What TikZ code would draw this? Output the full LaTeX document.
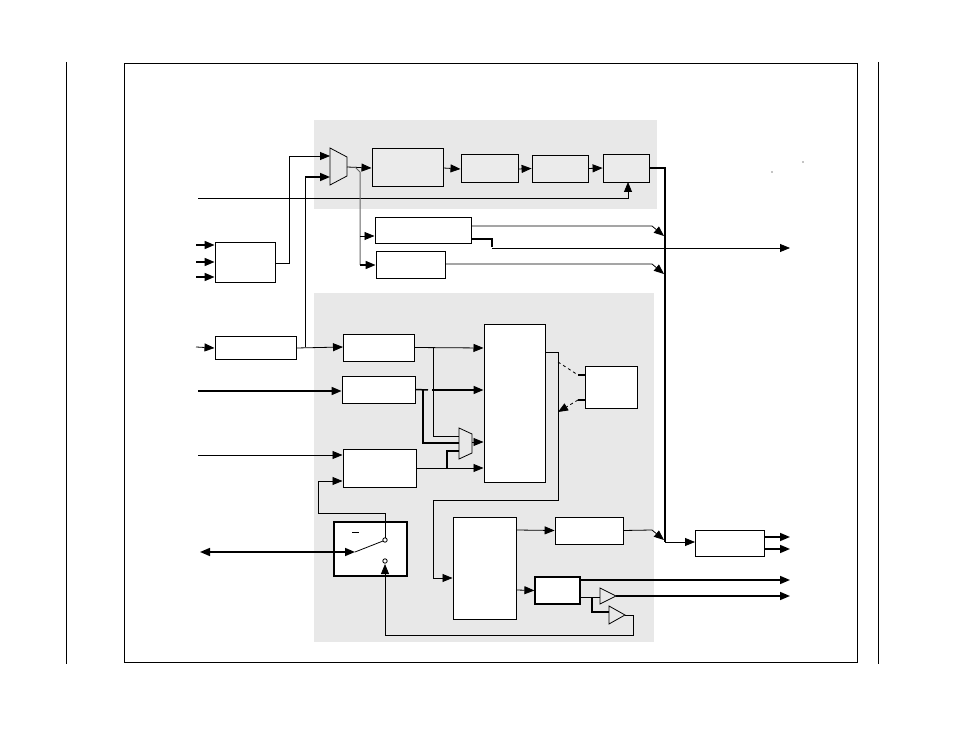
\documentclass[tikz,border=0pt]{standalone}
\usepackage{amsmath}
\usetikzlibrary{arrows.meta}
\begin{document}
\begin{tikzpicture}[x=1pt,y=-1pt,line width=0.8pt,
  blk/.style={draw,fill=white},
  gblk/.style={draw,fill=black!8},
  ar/.style={-{Triangle[length=10pt,width=8pt]}},
  thk/.style={line width=1.5pt}]
       \useasboundingbox (0,0) rectangle (954,738);
       % rahmen
       \draw (66,62) -- (66,664);
       \draw (878,62) -- (878,664);
       \draw (124,63) rectangle (857,662);
       % graue bereiche
       \fill[black!9] (314,120) rectangle (657,209);
       \fill[black!9] (314,293) rectangle (654,642);

       % oberer pfad
       \draw[fill=black!9] (330,148) -- (347,157) -- (347,176) -- (330,185) -- cycle;
       \node[gblk,minimum width=71pt,minimum height=38pt,line width=1pt] (a1) at (407.5,168) {};
       \node[gblk,minimum width=57pt,minimum height=28pt,line width=1pt] (a2) at (489.5,169) {};
       \node[gblk,minimum width=56pt,minimum height=27pt] (a3) at (560,168.5) {};
       \node[gblk,minimum width=46pt,minimum height=28pt] (a4) at (626,168) {};
       \draw[ar] (347,167) -- (a1.west);
       \draw[ar] (a1.east) -- (a2.west);
       \draw[ar] (a2.east) -- (a3.west);
       \draw[ar] (a3.east) -- (a4.west);
       \draw[ar] (198,198) -- (628,198) -- (628,182);
       \node[blk,minimum width=96pt,minimum height=26pt,line width=1pt] (b1) at (423,231) {};
       \node[blk,minimum width=69pt,minimum height=27pt] (b2) at (410.5,264.5) {};
       \draw[black!60,line width=1pt] (355,167) -- (360,172) -- (360,265);
       \draw[ar] (360,236) -- (b1.west |- 0,236);
       \draw[ar,thk] (360,265) -- (b2.west |- 0,265);
       \draw[ar] (471,226) -- (652,226) -- (664,236);
       \draw[ar] (445,264) -- (652,264) -- (664,274);
       \draw[thk] (471,239) -- (492,239) -- (492,247);
       \draw[ar] (492,248) -- (790,248);

       % eingang links oben
       \node[blk,minimum width=60pt,minimum height=40pt] (c) at (245,262) {};
       \foreach \y in {245,262,277} \draw[ar,thk] (196,\y) -- (c.west |- 0,\y);
       \draw[ar] (275,263) -- (289,263) -- (289,156) -- (330,156);
       \node[blk,minimum width=81pt,minimum height=22pt,line width=1pt] (e) at (255.5,348) {};
       \draw[ar] (196,347) -- (e.west);
       \draw[ar] (e.east) -- (343,347);
       \draw (305,347) -- (305,177);
       \draw[ar,thk] (305,177) -- (330,177);

       % unterer bereich
       \node[blk,minimum width=71pt,minimum height=27pt] (f1) at (378.5,347.5) {};
       \node[blk,minimum width=73pt,minimum height=27pt] (f2) at (378.5,389.5) {};
       \node[blk,minimum width=73pt,minimum height=38pt,line width=1pt] (f3) at (379.5,468) {};
       \node[blk,minimum width=61pt,minimum height=157pt,line width=1pt] (g) at (514.5,403.5) {};
       \draw[ar,thk] (198,391) -- (f2.west |- 0,391);
       \draw[ar] (198,455) -- (f3.west |- 0,455);
       \draw[ar] (f1.east) -- (g.west |- 0,348);
       \draw[thk] (f2.east) -- (428,390);
       \draw[ar,thk] (432,390) -- (g.west |- 0,390);
       \draw[ar] (f3.east |- 0,468) -- (g.west |- 0,468);
       \draw[fill=black!9] (459,428) -- (472,434) -- (472,453) -- (459,459) -- cycle;
       \draw[ar] (472,442) -- (g.west |- 0,442);
       \draw (433,348) -- (433,436) -- (459,436);
       \draw[thk] (423,390) -- (423,443) -- (459,443);
       \draw[thk] (447,468) -- (447,451) -- (459,451);
       \node[blk,minimum width=52pt,minimum height=42pt,line width=1pt] (h) at (611,387) {};
       \draw (545,352) -- (558,352) -- (558,500) -- (433,500) -- (433,578);
       \draw[dashed] (558,362) -- (578,375);
       \draw[thk] (578,375) -- (h.west |- 0,375);
       \draw[thk] (h.west |- 0,400) -- (578,400);
       \draw[ar,dashed] (578,400) -- (558,412);

       \node[blk,minimum width=63pt,minimum height=102pt,line width=1pt] (i) at (484.5,568) {};
       \draw[ar] (433,578) -- (i.west |- 0,578);
       \node[blk,minimum width=68pt,minimum height=27pt] (j) at (589,530.5) {};
       \draw[ar] (i.east |- 0,530) -- (j.west);
       \draw[ar] (j.east) -- (652,530) -- (664,540);
       \node[blk,minimum width=45pt,minimum height=27pt,line width=1.2pt] (k) at (557.5,590.5) {};
       \draw[ar] (i.east |- 0,590) -- (k.west);
       \draw[ar,thk] (580,580) -- (790,580);
       \draw (580,597) -- (600,597);
       \draw[fill=black!9] (600,588) -- (616,596) -- (600,604) -- cycle;
       \draw[ar,thk] (616,596) -- (790,596);
       \draw[thk] (592,597) -- (592,612) -- (609,612);
       \draw[fill=black!9] (609,606) -- (625,615) -- (609,624) -- cycle;

       % schalter
       \node[blk,minimum width=73pt,minimum height=54pt,line width=1.2pt] (s) at (370.5,549) {};
       \draw (352,532) -- (359,532);
       \draw (385,540) circle[radius=2.2pt];
       \draw (385,561) circle[radius=2.2pt];
       \draw (355,552) -- (383,541);
       \draw[{Triangle[length=10pt,width=8pt]}-{Triangle[length=10pt,width=8pt]},thk] (200,552) -- (355,552);
       \draw[ar] (385,538) -- (385,513) -- (318,513) -- (318,481) -- (f3.west |- 0,481);
       \draw (625,615) -- (633,615) -- (633,635) -- (385,635);
       \draw[ar] (385,635) -- (385,564);

       % rechter sammelbus
       \draw[line width=1.2pt] (a4.east) -- (665,168) -- (665,542);
       \draw[ar] (665,542) -- (695,542);
       \node[blk,minimum width=69pt,minimum height=26pt] (d) at (729.5,543) {};
       \draw[ar,thk] (d.east |- 0,537) -- (790,537);
       \draw[ar,thk] (d.east |- 0,549) -- (790,549);
       \fill (803,162) circle[radius=0.6pt] (772,172) circle[radius=0.6pt];
     \end{tikzpicture}
\end{document}
